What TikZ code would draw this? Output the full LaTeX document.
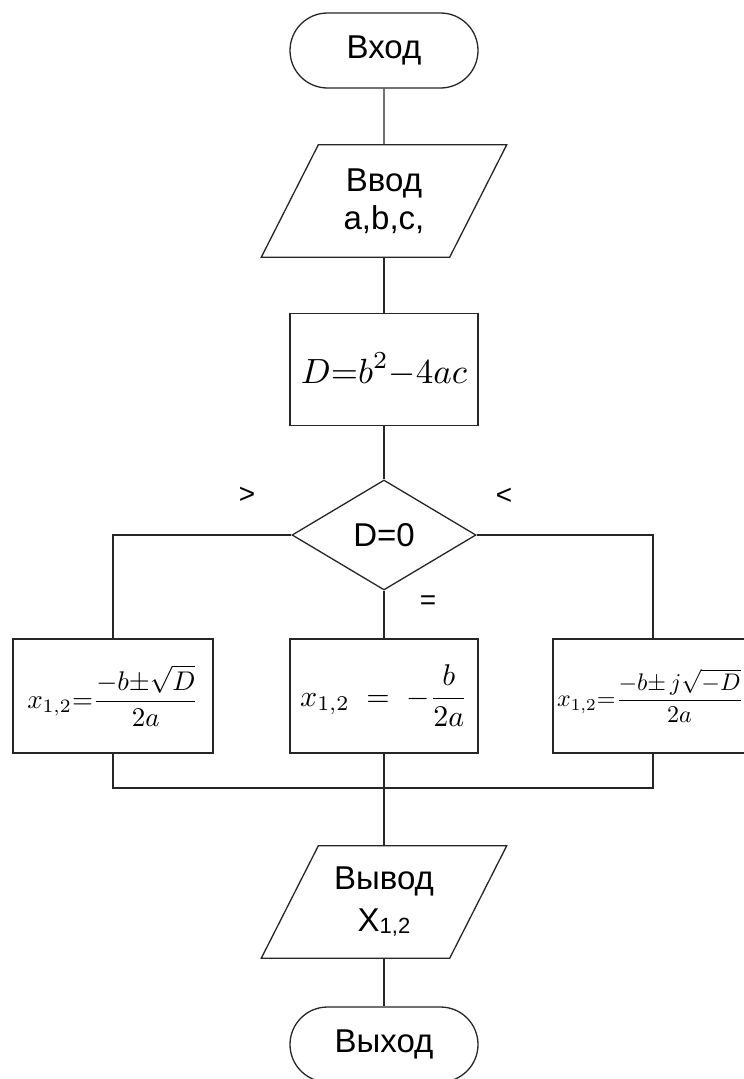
\documentclass[tikz,border=0pt]{standalone}
\usepackage[no-math]{fontspec}
\setmainfont{Liberation Sans}
\usetikzlibrary{shapes.geometric,shapes.misc}
\newcommand{\bigmath}[2]{\scalebox{#1}{$\displaystyle #2$}}
\begin{document}
\begin{tikzpicture}[x=1pt,y=-1pt,
  ln/.style={line width=1.3pt, draw=black!85},
  term/.style={rounded rectangle, ln, minimum width=188pt, minimum height=75pt, inner sep=0pt, font=\fontsize{33}{38}\selectfont},
  io/.style={rectangle, minimum width=188pt, minimum height=112pt, inner sep=0pt, align=center, font=\fontsize{33}{38}\selectfont},
  proc/.style={rectangle, ln, inner sep=0pt},
  cond/.style={diamond, ln, minimum width=184pt, minimum height=110pt, inner sep=0pt, font=\fontsize{33}{38}\selectfont},
  lbl/.style={font=\fontsize{28}{30}\selectfont, inner sep=0pt},
  mth/.style={inner sep=0pt}
]
\useasboundingbox (0,0) rectangle (744,1079);
\fill[white] (0,0) rectangle (744,1079);

\node[term] (start) at (384,50.5) {Вход};
\node[io] (in) at (384,201) {Ввод\\a,b,c,};
\draw[ln] ([xshift=28.5pt]in.north west) -- ([xshift=28.5pt]in.north east) -- ([xshift=-28.5pt]in.south east) -- ([xshift=-28.5pt]in.south west) -- cycle;
\node[proc, minimum width=188pt, minimum height=112pt] (calc) at (384,369.5) {\bigmath{3.5}{D{=}b^2{-}4ac}};
\node[cond] (dec) at (384,535) {D=0};

\node[lbl] (gt) at (247,495) {>};
\node[lbl] (lt) at (504,496) {<};
\node[lbl] (eq) at (428,603) {=};

\node[proc, minimum width=200pt, minimum height=114pt] (lbox) at (113,696) {\bigmath{2.7}{x_{1,2}{=}\frac{-b{\pm}\sqrt{D}}{2a}}};
\node[proc, minimum width=188pt, minimum height=114pt] (mbox) at (384,696) {\bigmath{3}{x_{1,2}\;=\;-\frac{b}{2a}}};
\node[proc, minimum width=200pt, minimum height=114pt] (rbox) at (653,696) {};
\node[mth, anchor=west] (rtext) at (557,696) {\bigmath{2.4}{x_{1,2}{=}\frac{-b{\pm}\,j\sqrt{-D}}{2a}}};

\node[io] (out) at (384,902) {Вывод\\[4pt]X\raisebox{-2pt}{\fontsize{22}{22}\selectfont 1,2}};
\draw[ln] ([xshift=28.5pt]out.north west) -- ([xshift=28.5pt]out.north east) -- ([xshift=-28.5pt]out.south east) -- ([xshift=-28.5pt]out.south west) -- cycle;
\node[term] (end) at (384,1044.5) {Выход};

\coordinate (join) at (384,788);

\draw[ln] (start) -- (in);
\draw[ln] (in) -- (calc);
\draw[ln] (calc) -- (dec);
\draw[ln] (dec.west) -| (lbox.north);
\draw[ln] (dec.east) -| (rbox.north);
\draw[ln] (dec.south) -- (mbox.north);
\draw[ln] (lbox.south) |- (join) -| (rbox.south);
\draw[ln] (mbox.south) -- (out.north);
\draw[ln] (out.south) -- (end.north);
\end{tikzpicture}
\end{document}
